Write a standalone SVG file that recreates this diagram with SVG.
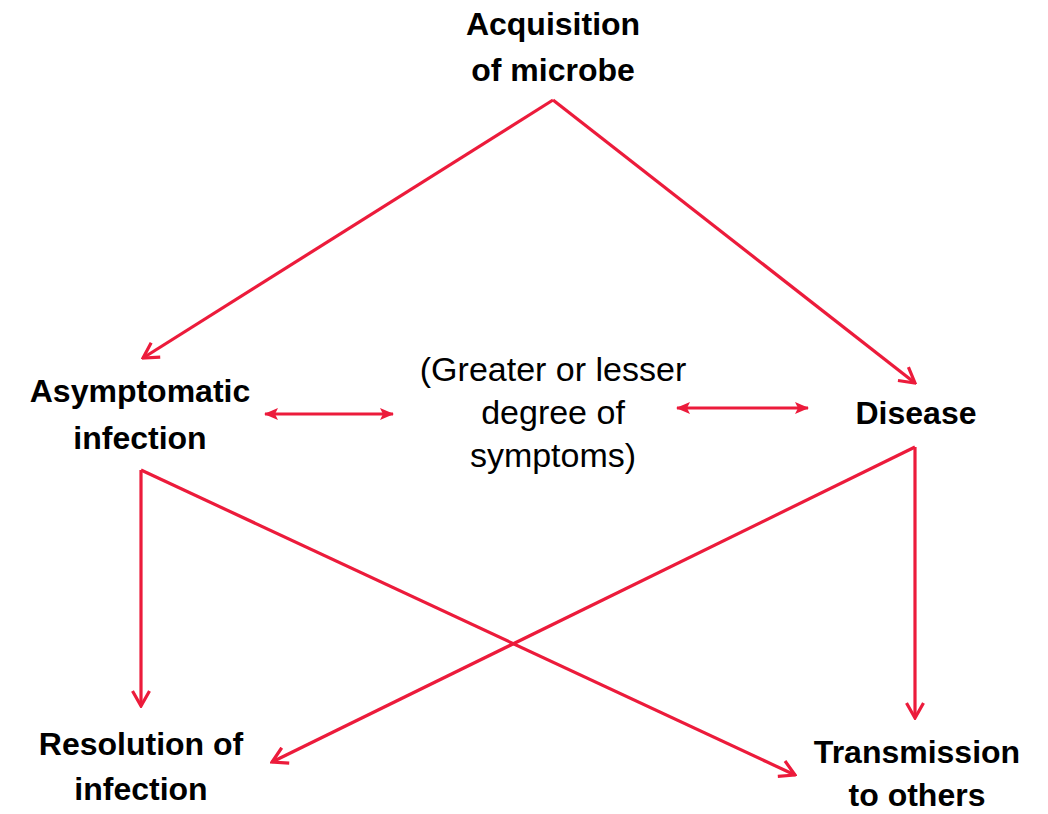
<svg xmlns="http://www.w3.org/2000/svg" width="1048" height="814" viewBox="0 0 1048 814">
<style>
.b{font-family:"Liberation Sans",Arial,sans-serif;font-weight:bold;font-size:32px;fill:#000;text-anchor:middle}
.r{font-family:"Liberation Sans",Arial,sans-serif;font-size:34px;fill:#000;text-anchor:middle}
.c{stroke:#EC1B3B;stroke-width:3.2;fill:none}
.d{stroke:#EC1B3B;stroke-width:3;fill:none}
</style>
<defs>
<marker id="v" viewBox="0 0 20 20" refX="18" refY="10" markerWidth="20" markerHeight="20" markerUnits="userSpaceOnUse" orient="auto">
<path d="M3,1.5 L18,10 L3,18.5" fill="none" stroke="#EC1B3B" stroke-width="3.2" stroke-linejoin="miter"/>
</marker>
<marker id="t" viewBox="0 0 14 12" refX="13" refY="6" markerWidth="14" markerHeight="12" markerUnits="userSpaceOnUse" orient="auto-start-reverse">
<path d="M0,0 L14,6 L0,12 L3,6 z" fill="#EC1B3B"/>
</marker>
</defs>
<g id="connectors">
<line class="c" x1="553" y1="100" x2="143" y2="358" marker-end="url(#v)"/>
<line class="c" x1="553" y1="100" x2="915" y2="383" marker-end="url(#v)"/>
<line class="d" x1="265" y1="414" x2="393" y2="414" marker-start="url(#t)" marker-end="url(#t)"/>
<line class="d" x1="677" y1="408" x2="808" y2="408" marker-start="url(#t)" marker-end="url(#t)"/>
<line class="c" x1="915" y1="447" x2="915" y2="718" marker-end="url(#v)"/>
<line class="c" x1="915" y1="447" x2="272" y2="762" marker-end="url(#v)"/>
<line class="c" x1="141" y1="470" x2="141" y2="706" marker-end="url(#v)"/>
<line class="c" x1="141" y1="470" x2="795" y2="775" marker-end="url(#v)"/>
</g>
<g id="acquisition"><text class="b" x="553" y="35">Acquisition</text><text class="b" x="553" y="81">of microbe</text></g>
<g id="asymptomatic"><text class="b" x="140" y="402">Asymptomatic</text><text class="b" x="140" y="449">infection</text></g>
<g id="symptoms"><text class="r" x="553" y="381">(Greater or lesser</text><text class="r" x="553" y="424">degree of</text><text class="r" x="553" y="467">symptoms)</text></g>
<g id="disease"><text class="b" x="916" y="424">Disease</text></g>
<g id="resolution"><text class="b" x="141" y="755">Resolution of</text><text class="b" x="141" y="800">infection</text></g>
<g id="transmission"><text class="b" x="917" y="763">Transmission</text><text class="b" x="917" y="806">to others</text></g>
</svg>
